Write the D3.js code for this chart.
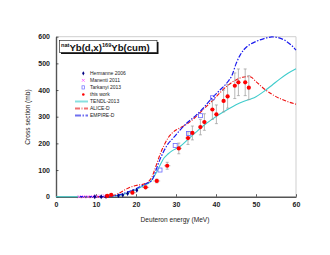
<!DOCTYPE html>
<html>
<head>
<meta charset="utf-8">
<script src="https://cdn.jsdelivr.net/npm/d3@7"></script>
<style>
  body { margin: 0; background: #fff; }
  svg text { font-family: "Liberation Sans", Arial, sans-serif; }
</style>
</head>
<body>
<div id="chart"></div>
<script>
// data
const xTicks = [0, 10, 20, 30, 40, 50, 60];
const yTicks = [0, 100, 200, 300, 400, 500, 600];

const tendlE = [0, 6, 10, 12, 14, 16, 18, 20, 22, 23.5, 25, 26, 27, 28, 29, 31, 33, 35, 37, 39, 41, 43, 45, 47, 49, 50, 52, 54, 56, 58, 60];
const tendlS = [0, 0, 0, 0.5, 2, 6, 14, 26, 42, 55, 88, 118, 145, 160, 172, 188, 215, 242, 268, 290, 310, 328, 345, 358, 368, 375, 395, 418, 442, 463, 480];

const aliceE = [6, 10, 12, 14, 16, 18, 20, 22, 23, 24, 25, 26, 27, 28, 29, 30, 31, 33, 35, 37, 39, 41, 43, 45, 47, 48.5, 50, 52, 54, 56, 58, 60];
const aliceS = [0, 0, 1, 3, 15, 32, 42, 48, 55, 75, 115, 158, 192, 220, 238, 250, 258, 275, 300, 330, 358, 390, 418, 438, 449, 450, 432, 405, 384, 368, 356, 347];

const empireE = [6, 10, 12, 14, 16, 18, 20, 22, 23, 24, 25, 26, 27, 28, 29, 30, 31, 33, 35, 37, 39, 41, 43, 44, 45, 46, 47, 48, 50, 52, 54, 55, 57, 59, 60];
const empireS = [0, 0, 0.5, 2, 8, 18, 30, 45, 52, 62, 100, 140, 172, 198, 215, 232, 250, 280, 305, 335, 370, 400, 432, 455, 498, 530, 552, 566, 582, 593, 599, 598, 588, 566, 550];

const hermE = [9.7, 11.3, 12.5, 15.6, 16.7, 17.9, 19.2, 20.2];
const hermS = [0, 0, 1, 4, 6, 12, 20, 24];

const manE = [5.8, 6.9, 8, 9.1, 10.2, 11.2, 12.2];
const manS = [0, 0, 0, 0.5, 1, 1.5, 2];

const tarkE = [26, 29.8, 33.1, 36.1, 39.1];
const tarkS = [100, 192, 237, 304, 371];

const workE = [12.8, 13.8, 19.1, 22.4, 25.2, 27.8, 30.7, 33, 34.1, 36.1, 37.1, 39.1, 40.1, 41.9, 42.9, 44.7, 45.6, 47.3, 48.2];
const workS = [3, 7, 15, 35, 59, 116, 181, 220, 239, 261, 280, 327, 309, 359, 376, 416, 429, 429, 409];
const workDS = [1, 2, 4, 5, 7, 13, 20, 24, 26, 29, 31, 37, 35, 41, 44, 48, 50, 50, 45];
const workDE = [1.0, 1.0, 0.9, 0.9, 0.85, 0.8, 0.75, 0.7, 0.7, 0.6, 0.6, 0.5, 0.5, 0.45, 0.45, 0.4, 0.4, 0.35, 0.35];

const legendNames = ["Hermanne 2006", "Manenti 2011", "Tarkanyi 2013", "this work", "TENDL-2013", "ALICE-D", "EMPIRE-D"];

const margin = {top: 36.7, right: 34, bottom: 58.3, left: 56};
const W = 330, H = 255;
const width = W - margin.left - margin.right;
const height = H - margin.top - margin.bottom;

const svg = d3.select("#chart").append("svg")
    .attr("width", W)
    .attr("height", H);

const g = svg.append("g")
    .attr("transform", "translate(" + margin.left + "," + margin.top + ")");

const x = d3.scaleLinear().domain([0, 60]).range([0, width]);
const y = d3.scaleLinear().domain([0, 600]).range([height, 0]);

// light frame on top/right
g.append("path")
    .attr("d", "M0,0H" + width + "V" + height)
    .attr("fill", "none")
    .attr("stroke", "#cfcfcf")
    .attr("stroke-width", 1);

// axes, ticks pointing inward
const xAxis = g.append("g")
    .attr("transform", "translate(0," + height + ")")
    .call(d3.axisBottom(x).tickValues(xTicks).tickSizeInner(-2.5).tickSizeOuter(0).tickPadding(5));
const yAxis = g.append("g")
    .call(d3.axisLeft(y).tickValues(yTicks).tickSizeInner(-2.5).tickSizeOuter(0).tickPadding(6));

[xAxis, yAxis].forEach(a => {
    a.select(".domain").attr("stroke", "#555").attr("stroke-width", 1.4);
    a.selectAll(".tick line").attr("stroke", "#333").attr("stroke-width", 0.8);
    a.selectAll(".tick text")
        .attr("font-size", 7)
        .attr("font-weight", "bold")
        .attr("fill", "#222")
        .style("font-family", "'Liberation Sans', Arial, sans-serif");
});

// axis titles
svg.append("text")
    .attr("x", 175).attr("y", 222)
    .attr("text-anchor", "middle")
    .attr("font-size", 6.6)
    .attr("fill", "#222")
    .text("Deuteron energy (MeV)");

svg.append("text")
    .attr("transform", "translate(29.5,117) rotate(-90)")
    .attr("text-anchor", "middle")
    .attr("font-size", 6.6)
    .attr("fill", "#222")
    .text("Cross section (mb)");

// model curves
const line = d3.line()
    .x(d => x(d[0]))
    .y(d => y(d[1]))
    .curve(d3.curveMonotoneX);

const curves = [
    {e: tendlE, s: tendlS, color: "#3fcccc", dash: null, w: 1.1},
    {e: aliceE, s: aliceS, color: "#ee1111", dash: "4,1.5,1,1.5", w: 1.1},
    {e: empireE, s: empireS, color: "#1a1aee", dash: "5,1.5,1.5,1.5", w: 1.2}
];

curves.forEach(c => {
    g.append("path")
        .datum(d3.zip(c.e, c.s))
        .attr("d", line)
        .attr("fill", "none")
        .attr("stroke", c.color)
        .attr("stroke-width", c.w)
        .attr("stroke-dasharray", c.dash);
});

// this work error bars
const errG = g.append("g").attr("stroke", "#9a9a9a").attr("stroke-width", 0.7);
workE.forEach((e, i) => {
    const cx = x(e), cy = y(workS[i]);
    const y0 = y(workS[i] - workDS[i]), y1 = y(workS[i] + workDS[i]);
    errG.append("line").attr("x1", cx).attr("x2", cx).attr("y1", y0).attr("y2", y1);
    errG.append("line").attr("x1", cx - 1.5).attr("x2", cx + 1.5).attr("y1", y0).attr("y2", y0);
    errG.append("line").attr("x1", cx - 1.5).attr("x2", cx + 1.5).attr("y1", y1).attr("y2", y1);
    const x0 = x(e - workDE[i]), x1 = x(e + workDE[i]);
    errG.append("line").attr("x1", x0).attr("x2", x1).attr("y1", cy).attr("y2", cy);
});

// Manenti
g.selectAll(".man").data(d3.zip(manE, manS)).join("path")
    .attr("class", "man")
    .attr("transform", d => "translate(" + x(d[0]) + "," + y(d[1]) + ")")
    .attr("d", d3.symbol().type(d3.symbolX).size(8))
    .attr("stroke", "#ff66ff").attr("stroke-width", 0.9).attr("fill", "none");

// Hermanne
g.selectAll(".herm").data(d3.zip(hermE, hermS)).join("path")
    .attr("class", "herm")
    .attr("transform", d => "translate(" + x(d[0]) + "," + y(d[1]) + ")")
    .attr("d", d3.symbol().type(d3.symbolDiamond).size(7))
    .attr("fill", "#000080");

// Tarkanyi
g.selectAll(".tark").data(d3.zip(tarkE, tarkS)).join("rect")
    .attr("class", "tark")
    .attr("x", d => x(d[0]) - 2).attr("y", d => y(d[1]) - 2)
    .attr("width", 4).attr("height", 4)
    .attr("fill", "none").attr("stroke", "#6a6aff").attr("stroke-width", 0.8);

// this work
g.selectAll(".work").data(d3.zip(workE, workS)).join("circle")
    .attr("class", "work")
    .attr("cx", d => x(d[0])).attr("cy", d => y(d[1]))
    .attr("r", 2.1)
    .attr("fill", "#ff0000");

// title box
const tb = svg.append("g");
tb.append("rect").attr("x", 61).attr("y", 42).attr("width", 97.5).attr("height", 12).attr("fill", "#111");
tb.append("rect").attr("x", 59.5).attr("y", 40.5).attr("width", 97.5).attr("height", 12)
    .attr("fill", "#fff").attr("stroke", "#111").attr("stroke-width", 0.6);
const tt = tb.append("text").attr("x", 61).attr("y", 50.5).attr("font-size", 9.6).attr("font-weight", "bold").attr("fill", "#111");
tt.append("tspan").attr("font-size", 5.6).attr("dy", -3.2).text("nat");
tt.append("tspan").attr("dy", 3.2).text("Yb(d,x)");
tt.append("tspan").attr("font-size", 5.6).attr("dy", -3.2).text("169");
tt.append("tspan").attr("dy", 3.2).text("Yb(cum)");

// legend
const lg = svg.append("g");
const rowY = i => 73.3 + 7.05 * i;
legendNames.forEach((name, i) => {
    lg.append("text")
        .attr("x", 90).attr("y", rowY(i) + 1.7)
        .attr("font-size", 5)
        .attr("fill", "#222")
        .text(name);
});
lg.append("path").attr("transform", "translate(83.3," + rowY(0) + ")")
    .attr("d", d3.symbol().type(d3.symbolDiamond).size(5)).attr("fill", "#000080");
lg.append("path").attr("transform", "translate(83.3," + rowY(1) + ")")
    .attr("d", d3.symbol().type(d3.symbolX).size(6)).attr("stroke", "#ff66ff").attr("stroke-width", 0.9);
lg.append("rect").attr("x", 82).attr("y", rowY(2) - 1.6).attr("width", 2.6).attr("height", 3.2)
    .attr("fill", "none").attr("stroke", "#6a6aff").attr("stroke-width", 0.7);
lg.append("circle").attr("cx", 83.3).attr("cy", rowY(3)).attr("r", 1.3).attr("fill", "#ff0000");
const legLines = [
    {color: "#88e0e0", dash: null},
    {color: "#f07070", dash: "5,1.5,1,1.5"},
    {color: "#7070f0", dash: "6,1.5,1.5,1.5"}
];
legLines.forEach((c, i) => {
    lg.append("line")
        .attr("x1", 75).attr("x2", 88)
        .attr("y1", rowY(4 + i)).attr("y2", rowY(4 + i))
        .attr("stroke", c.color).attr("stroke-width", 2)
        .attr("stroke-dasharray", c.dash);
});
</script>
</body>
</html>
